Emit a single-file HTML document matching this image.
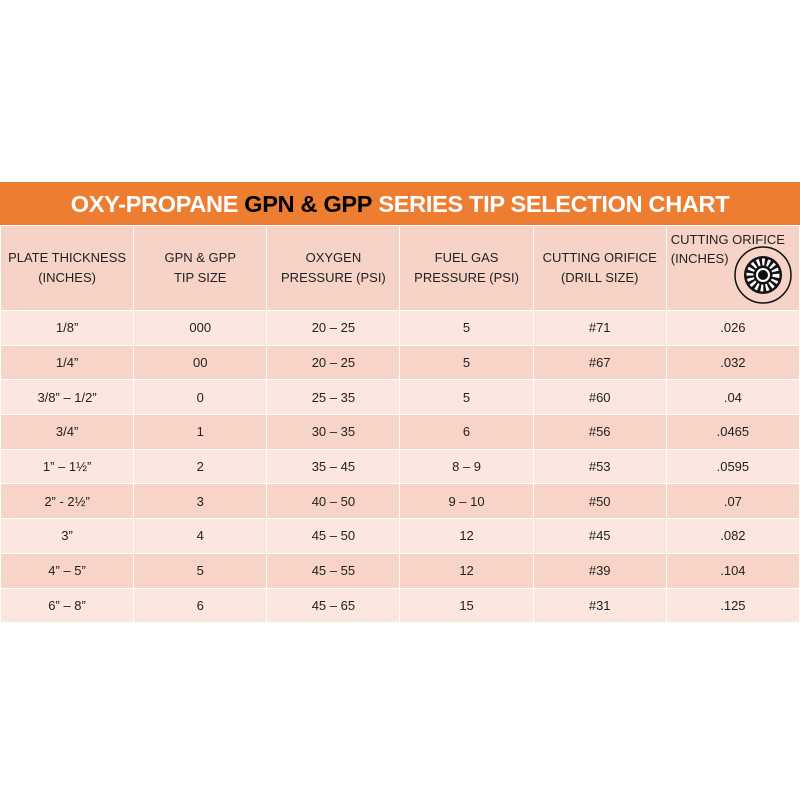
<!DOCTYPE html>
<html><head><style>
body{margin:0;width:800px;height:800px;background:#fff;position:relative;font-family:"Liberation Sans",sans-serif;overflow:hidden}
.title{position:absolute;left:0;top:182px;width:800px;height:43px;background:#ED7D31;color:#fff;font-weight:bold;font-size:23.5px;line-height:45px;text-align:center;letter-spacing:-0.3px}
.title b{color:#000}
table{position:absolute;left:0;top:225px;width:800px;border-collapse:collapse;table-layout:fixed}
td{border:1px solid #fff;text-align:center;color:#222;font-size:13px;padding:0}
tr.h td{height:84px;background:#F6D2C7;line-height:20px}
tr.r td{height:33.7px}
tr.a td{background:#FBE6E0}
tr.b td{background:#F7D3C8}
</style></head><body>
<div class="title">OXY-PROPANE <b>GPN &amp; GPP</b> SERIES TIP SELECTION CHART</div>
<table>
<tr class="h"><td>PLATE THICKNESS<br>(INCHES)</td><td>GPN &amp; GPP<br>TIP SIZE</td><td>OXYGEN<br>PRESSURE (PSI)</td><td>FUEL GAS<br>PRESSURE (PSI)</td><td>CUTTING ORIFICE<br>(DRILL SIZE)</td><td style="position:relative;text-align:left;vertical-align:top"><div style="padding:4px 0 0 4px;line-height:19px">CUTTING ORIFICE<br>(INCHES)</div>
<svg style="position:absolute;left:66px;top:18px" width="60" height="62" viewBox="0 0 60 62"><circle cx="30" cy="31" r="28" fill="none" stroke="#111" stroke-width="1.5"/><circle cx="30" cy="31" r="19" fill="#111"/><circle cx="30" cy="31" r="13" fill="none" stroke="#fff" stroke-width="7" stroke-dasharray="2.5 2.5"/><circle cx="30" cy="31" r="7" fill="#fff"/><circle cx="30" cy="31" r="5" fill="#111"/></svg></td></tr>
<tr class="r a"><td>1/8”</td><td>000</td><td>20 – 25</td><td>5</td><td>#71</td><td>.026</td></tr>
<tr class="r b"><td>1/4”</td><td>00</td><td>20 – 25</td><td>5</td><td>#67</td><td>.032</td></tr>
<tr class="r a"><td>3/8” – 1/2”</td><td>0</td><td>25 – 35</td><td>5</td><td>#60</td><td>.04</td></tr>
<tr class="r b"><td>3/4”</td><td>1</td><td>30 – 35</td><td>6</td><td>#56</td><td>.0465</td></tr>
<tr class="r a"><td>1” – 1½”</td><td>2</td><td>35 – 45</td><td>8 – 9</td><td>#53</td><td>.0595</td></tr>
<tr class="r b"><td>2” - 2½”</td><td>3</td><td>40 – 50</td><td>9 – 10</td><td>#50</td><td>.07</td></tr>
<tr class="r a"><td>3”</td><td>4</td><td>45 – 50</td><td>12</td><td>#45</td><td>.082</td></tr>
<tr class="r b"><td>4” – 5”</td><td>5</td><td>45 – 55</td><td>12</td><td>#39</td><td>.104</td></tr>
<tr class="r a"><td>6” – 8”</td><td>6</td><td>45 – 65</td><td>15</td><td>#31</td><td>.125</td></tr>
</table>
</body></html>
